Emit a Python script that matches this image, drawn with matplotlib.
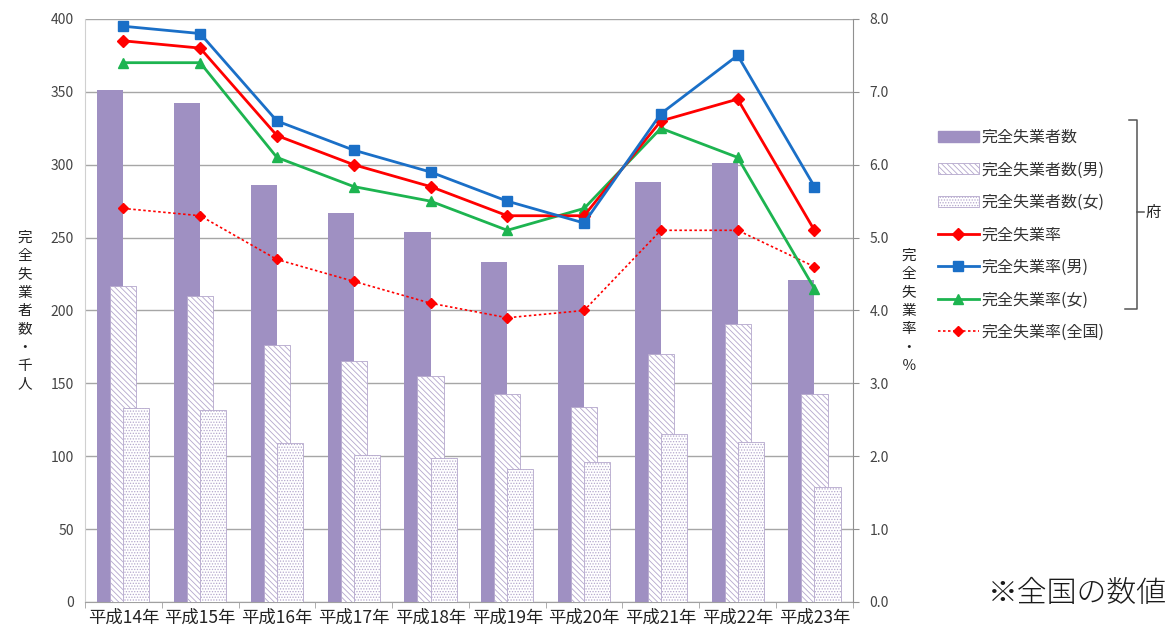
import matplotlib.pyplot as plt
import numpy as np
from matplotlib.patches import Patch
from matplotlib.lines import Line2D

plt.rcParams['font.family'] = ['Noto Sans CJK JP', 'DejaVu Sans']
plt.rcParams['hatch.linewidth'] = 0.6

years = ['平成14年', '平成15年', '平成16年', '平成17年', '平成18年',
         '平成19年', '平成20年', '平成21年', '平成22年', '平成23年']

# 完全失業者数 (千人)
total = [351, 342, 286, 267, 254, 233, 231, 288, 301, 221]
male = [217, 210, 176, 165, 155, 143, 134, 170, 191, 143]
female = [133, 132, 109, 101, 99, 91, 96, 115, 110, 79]

# 完全失業率 (%)
rate = [7.7, 7.6, 6.4, 6.0, 5.7, 5.3, 5.3, 6.6, 6.9, 5.1]
rate_male = [7.9, 7.8, 6.6, 6.2, 5.9, 5.5, 5.2, 6.7, 7.5, 5.7]
rate_female = [7.4, 7.4, 6.1, 5.7, 5.5, 5.1, 5.4, 6.5, 6.1, 4.3]
rate_japan = [5.4, 5.3, 4.7, 4.4, 4.1, 3.9, 4.0, 5.1, 5.1, 4.6]

bar_c = '#9f90c2'
hatch_c = '#b4a7cc'
male_hatch = '\\\\\\\\\\\\'
female_hatch = '......'

fig = plt.figure(figsize=(11.67, 6.32), dpi=100)
ax = fig.add_axes([0.0728, 0.0475, 0.658, 0.9225])
x = np.arange(len(years))
w = 0.34

ax.bar(x - 0.17, total, w, color=bar_c, zorder=2)
ax.bar(x, male, w, color='white', edgecolor=hatch_c, hatch=male_hatch, linewidth=0.6, zorder=3)
ax.bar(x + 0.17, female, w, color='white', edgecolor=hatch_c, hatch=female_hatch, linewidth=0.6, zorder=4)

ax.set_xlim(-0.5, 9.5)
ax.set_ylim(0, 400)
ax.set_yticks(range(0, 401, 50))
ax.yaxis.grid(True, color='#a6a6a6', linewidth=1.0)
ax.set_axisbelow(True)
ax.set_xticks(x)
ax.set_xticklabels(years, fontsize=12.5, color='#222222')
ax.set_xticks(np.arange(-0.5, 10, 1), minor=True)
ax.tick_params(axis='x', which='major', length=0, pad=5)
ax.tick_params(axis='x', which='minor', length=4, color='#a0a0a0')
ax.tick_params(axis='y', length=0, labelsize=10, labelcolor='#444444', pad=8)
for s in ['top', 'right']:
    ax.spines[s].set_visible(False)
ax.spines['left'].set_color('#d0d0d0')
ax.spines['bottom'].set_color('#a0a0a0')

ax2 = ax.twinx()
ax2.plot(x, rate, color='#ff0000', lw=2, marker='D', ms=6, zorder=5)
ax2.plot(x, rate_male, color='#1a6fc7', lw=2, marker='s', ms=7, zorder=6)
ax2.plot(x, rate_female, color='#1db450', lw=2, marker='^', ms=7, zorder=4)
ax2.plot(x, rate_japan, color='#ff0000', lw=1.2, ls=(0, (1.5, 1.5)), marker='D', ms=5, zorder=3)
ax2.set_ylim(0, 8)
ax2.set_yticks(np.arange(0, 8.1, 1))
ax2.set_yticklabels([f'{v:.1f}' for v in np.arange(0, 8.1, 1)])
ax2.tick_params(axis='y', length=4, color='#909090', labelsize=10, labelcolor='#444444', pad=8)
for s in ['top', 'left', 'bottom']:
    ax2.spines[s].set_visible(False)
ax2.spines['right'].set_color('#909090')

fig.text(25 / 1167, 1 - 311 / 632, '\n'.join('完全失業者数・千人'), fontsize=10.5, ha='center',
         va='center', linespacing=1.4, color='#222222')
fig.text(909 / 1167, 1 - 311 / 632, '\n'.join('完全失業率・％'), fontsize=10.5, ha='center',
         va='center', linespacing=1.4, color='#222222')

handles = [
    Patch(facecolor=bar_c, edgecolor=bar_c),
    Patch(facecolor='white', edgecolor=hatch_c, hatch=male_hatch, linewidth=0.6),
    Patch(facecolor='white', edgecolor=hatch_c, hatch=female_hatch, linewidth=0.6),
    Line2D([], [], color='#ff0000', lw=2, marker='D', ms=6),
    Line2D([], [], color='#1a6fc7', lw=2, marker='s', ms=7),
    Line2D([], [], color='#1db450', lw=2, marker='^', ms=7),
    Line2D([], [], color='#ff0000', lw=1.2, ls=(0, (1.5, 1.5)), marker='D', ms=5),
]
labels = ['完全失業者数', '完全失業者数(男)', '完全失業者数(女)', '完全失業率',
          '完全失業率(男)', '完全失業率(女)', '完全失業率(全国)']
fig.legend(handles, labels, loc='upper left', bbox_to_anchor=(938 / 1167, 1 - 129 / 632),
           frameon=False, fontsize=11.5, handlelength=2.55, handleheight=0.7, labelspacing=0.97,
           handletextpad=0.2, borderpad=0, borderaxespad=0, labelcolor='#333333')

# 府 bracket
W, H = 1167, 632
def fx(px):
    return px / W
def fy(py):
    return 1 - py / H
bx = 1137
fig.add_artist(Line2D([fx(1129), fx(bx), fx(bx), fx(1125)],
                      [fy(120), fy(120), fy(309), fy(309)], color='#555555', lw=1.1))
fig.add_artist(Line2D([fx(bx), fx(1144)], [fy(212), fy(212)], color='#555555', lw=1.1))
fig.text(fx(1146), fy(212), '府', fontsize=11, va='center', ha='left', color='#222222')

fig.text(fx(988), fy(594), '※全国の数値', fontsize=21.5, va='center', ha='left',
         color='#1a1a1a', fontweight='light')

fig.savefig('out.png', dpi=100)
